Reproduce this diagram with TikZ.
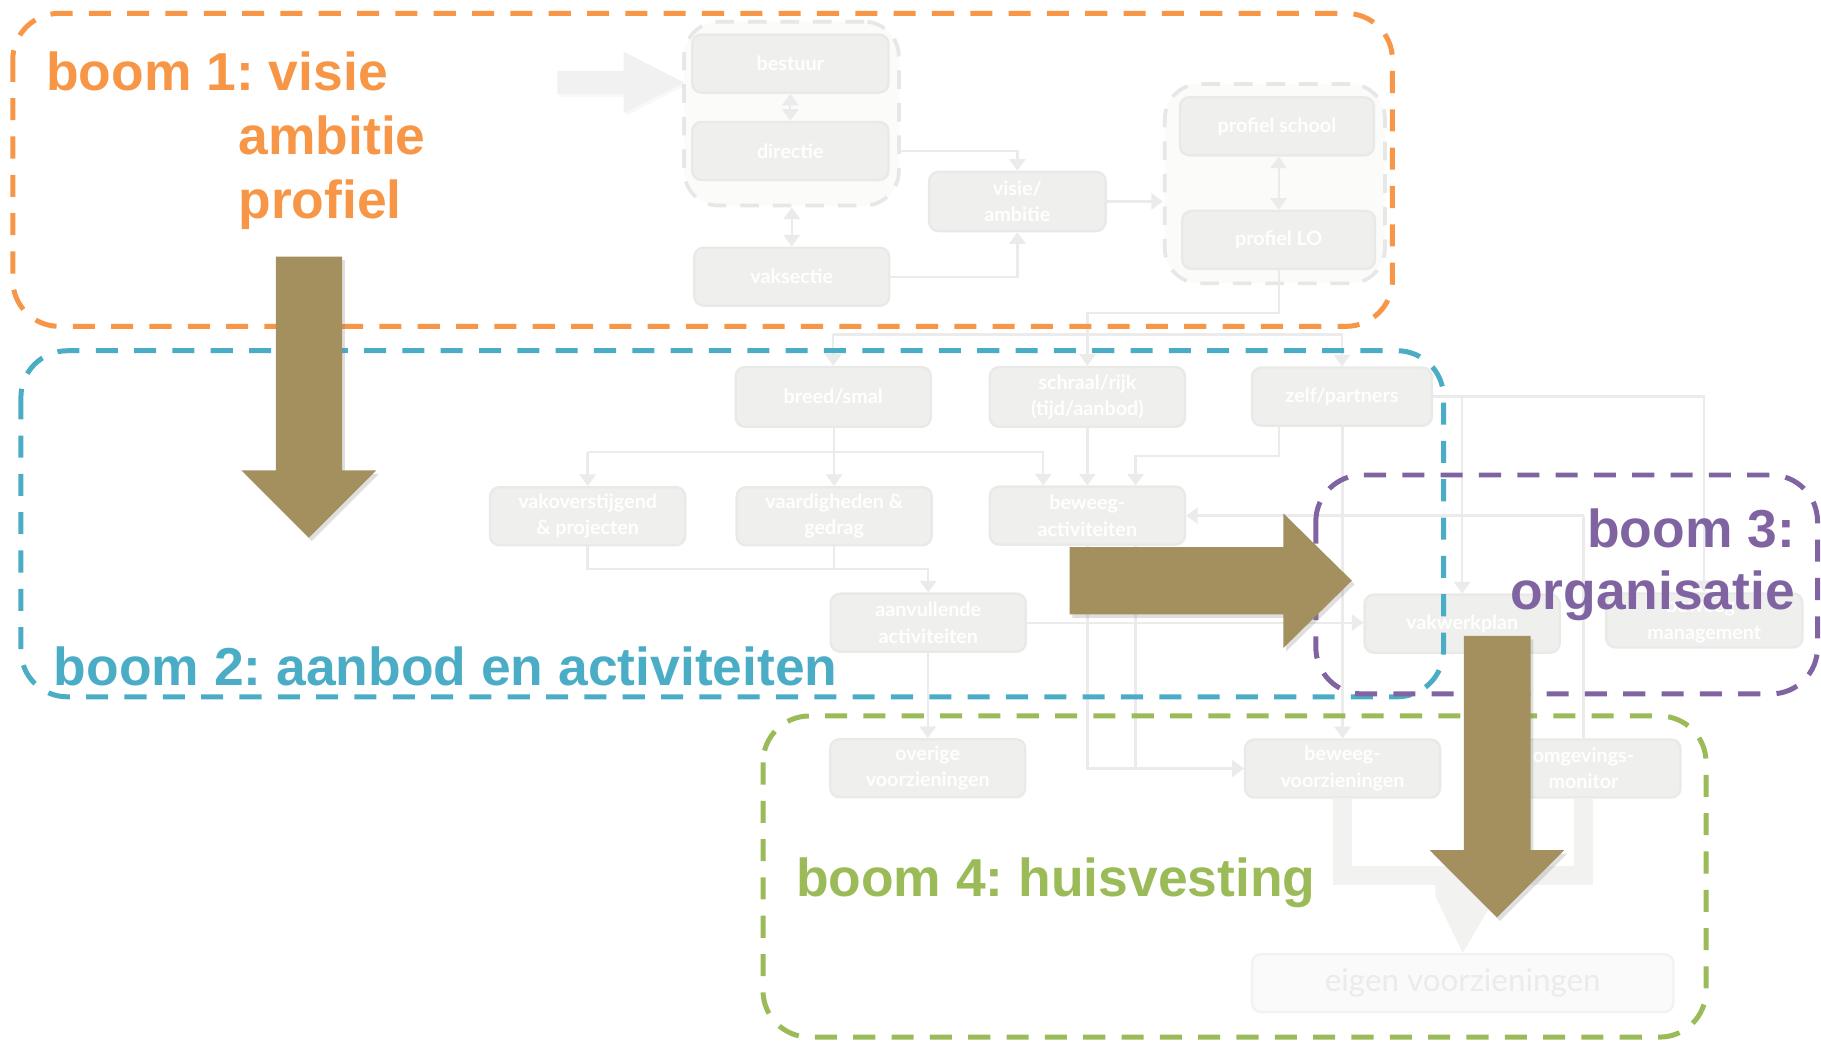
\documentclass[tikz,border=0pt]{standalone}
\usepackage{fontspec}
\setmainfont{Liberation Sans}
\newfontfamily\boxfont{Lato}
\usetikzlibrary{arrows.meta,calc,shadows}
\frenchspacing
\definecolor{orng}{HTML}{F79646}
\definecolor{blu}{HTML}{4BACC6}
\definecolor{purp}{HTML}{8064A2}
\definecolor{grn}{HTML}{9BBB59}
\definecolor{brwn}{HTML}{A48F5F}
\definecolor{boxfill}{HTML}{EFEFED}
\definecolor{boxedge}{HTML}{E9E9E7}
\definecolor{bandcol}{HTML}{F2F2F0}
\definecolor{conn}{HTML}{EBEBEB}
\definecolor{grpfill}{HTML}{FBFBFA}
\definecolor{grpedge}{HTML}{E7E7E6}
\definecolor{fadearrow}{HTML}{F1F1F1}
\begin{document}
\begin{tikzpicture}[x=0.5pt,y=-0.5pt,
  bx/.style={rounded corners=4pt, fill=boxfill, draw=boxedge, line width=1pt, text=white,
    font=\boxfont\bfseries\fontsize{8.5}{11.3}\selectfont, align=center, inner sep=0pt,
    minimum width=84pt, minimum height=25pt},
  lastbx/.style={rounded corners=4pt, fill=black!2, draw=black!5, line width=1pt, text=black!8,
    font=\boxfont\fontsize{13.5}{16}\selectfont, inner sep=0pt, minimum width=181.5pt, minimum height=25pt},
  con/.style={draw=conn, line width=1pt},
  arr/.style={con, -{Triangle[length=5pt,width=7pt]}},
  darr/.style={con, {Triangle[length=5pt,width=7pt]}-{Triangle[length=5pt,width=7pt]}},
  grp/.style={rounded corners=15pt, fill=grpfill, draw=grpedge, line width=1.6pt, dash pattern=on 8pt off 6pt, inner sep=0pt},
  frame/.style={rounded corners=20pt, line width=2.15pt, dash pattern=on 9.5pt off 7pt},
  lbl/.style={font=\frenchspacing\bfseries\fontsize{23}{27}\selectfont, inner sep=0pt},
  bigarrow/.style={fill=brwn, drop shadow={shadow xshift=1.2pt, shadow yshift=-1.5pt, opacity=0.25}},
  uband/.style={draw=bandcol, line width=8pt, line join=miter}
]
\useasboundingbox (0,0) rectangle (1568,900);

% ---------- faded background diagram ----------
\node[grp, minimum width=92.5pt, minimum height=79.15pt] (grp1) at (681.5,97.85) {};
\node[grp, minimum width=94.75pt, minimum height=85.85pt] (grp2) at (1097.75,158.15) {};

\fill[fadearrow, drop shadow={shadow xshift=0.8pt, shadow yshift=-1.2pt, opacity=0.06}]
  (480,61) -- (537,61) -- (537,44.5) -- (589,71) -- (537,97.5) -- (537,81) -- (480,81) -- cycle;

\node[bx, minimum width=84.5pt] (bestuur) at (680.5,54.8) {bestuur};
\node[bx, minimum width=84.5pt] (directie) at (680.5,130) {directie};
\node[bx] (vaksectie) at (681.75,238.25) {vaksectie};
\node[bx, minimum width=76pt, minimum height=25.5pt] (visie) at (876,173.5) {visie/\\ambitie};
\node[bx, minimum width=83.5pt] (pschool) at (1099.5,108.8) {profiel school};
\node[bx, minimum width=83pt] (pLO) at (1101,206.6) {profiel LO};

\node[bx, minimum height=25.75pt] (breed) at (717.5,341.75) {breed/smal};
\node[bx, minimum height=25.75pt] (schraal) at (936.3,341.75) {schraal/rijk\\(tijd/aanbod)};
\node[bx, minimum width=77.5pt] (zelf) at (1155.5,341.5) {zelf/partners};

\node[bx] (vakov) at (506,444.5) {vakoverstijgend\\\& projecten};
\node[bx] (vaard) at (718.3,444.5) {vaardigheden \&\\gedrag};
\node[bx] (bewact) at (936.3,444) {beweeg-\\activiteiten};

\node[bx] (aanv) at (799.3,536.15) {aanvullende\\activiteiten};
\node[bx] (vakwerk) at (1259,537) {vakwerkplan};
\node[bx, minimum width=84.5pt, minimum height=23.25pt] (bewman) at (1467.5,534.25) {beweeg-\\management};

\node[bx] (overige) at (798.85,661.5) {overige\\voorzieningen};
\node[bx] (bewvoorz) at (1156,661.75) {beweeg-\\voorzieningen};
\node[bx, minimum width=83.5pt] (omgev) at (1363.5,661.75) {omgevings-\\monitor};

\node[lastbx] (eigen) at (1259.5,846.5) {eigen voorzieningen};

% connectors top
\draw[darr] (bestuur) -- (directie);
\draw[darr] (vaksectie.north |- grp1.south) -- (vaksectie.north);
\draw[arr] (directie.east -| grp1.east) -| (visie.north);
\draw[arr] (vaksectie.east) -| (visie.south);
\draw[arr] (visie.east) -- (visie.east -| grp2.west);
\draw[darr] (pLO.north |- pschool.south) -- (pLO.north);
\draw[arr] (pLO.south) -- ++(0,37) -| (schraal.north);
\coordinate (busA) at (718,288);
\draw[arr] (breed.north |- busA) -| (zelf.north);
\draw[arr] (breed.north |- busA) -- (breed.north);

% row 3
\coordinate (busB) at (0,389);
\draw[arr] (vaard.north |- breed.south) -- (vaard.north);
\draw[arr] (vakov.north |- busB) -- (vakov.north);
\draw[arr] (vakov.north |- busB) -| ($(bewact.north)+(-38,0)$);
\draw[arr] (schraal.south) -- (bewact.north);
\draw[arr] ($(zelf.south)+(-54,0)$) -- ++(0,25) -| ($(bewact.north)+(41.5,0)$);
\draw[arr] (bewvoorz.north |- zelf.south) -- (bewvoorz.north);
\draw[arr] (zelf.east) -| (bewman.north);
\draw[arr] (zelf.east -| vakwerk.north) -- (vakwerk.north);
\draw[con] (omgev.north |- bewact.east) -- (omgev.north);
\draw[arr] (omgev.north |- bewact.east) -- (bewact.east);

% row 4
\coordinate (busC) at (0,490);
\draw[arr] (vakov.south) |- (aanv.north |- busC) -- (aanv.north);
\draw[con] (vaard.south) -- (vaard.south |- busC);
\draw[arr] (aanv.east) -- (aanv.east -| vakwerk.west);
\draw[arr] (overige.north |- aanv.south) -- (overige.north);
\draw[arr] (bewact.south) |- (bewvoorz.west);
\draw[arr] ($(bewact.south)+(41.5,0)$) |- (bewvoorz.west);

% thick band to eigen voorzieningen
\coordinate (ubot) at (0,754);
\draw[uband] (bewvoorz.south) -- (bewvoorz.south |- ubot) -| (omgev.south);
\fill[bandcol] (1236,760) -- (1236,772) -- (eigen.north) -- (1288,772) -- (1288,760) -- cycle;

% ---------- coloured frames ----------
\draw[frame, draw=orng] (11,11.5) rectangle (1199,281);
\draw[frame, draw=blu] (18,302) rectangle (1243,600);
\draw[frame, draw=purp] (1133,409) rectangle (1565,597.5);
\draw[frame, draw=grn] (657,616.5) rectangle (1469,893);

% ---------- labels ----------
\node[lbl, text=orng, anchor=base west] (t1a) at (39.5,77.5) {boom 1: visie};
\node[lbl, text=orng, anchor=base west] (t1b) at (205,133) {ambitie};
\node[lbl, text=orng, anchor=base west] (t1c) at (205,188) {profiel};
\node[lbl, text=blu, anchor=base west] (t2) at (46,590.5) {boom 2: aanbod en activiteiten};
\node[lbl, text=purp, anchor=base east] (t3a) at (1546,471) {boom 3:};
\node[lbl, text=purp, anchor=base east] (t3b) at (1546,525) {organisatie};
\node[lbl, text=grn, anchor=base west] (t4) at (685,772) {boom 4: huisvesting};

% ---------- big arrows ----------
\fill[bigarrow] (237.5,221) -- (294.5,221) -- (294.5,405) -- (324,405) -- (266,463) -- (208,405) -- (237.5,405) -- cycle;
\fill[bigarrow] (921,471) -- (1105,471) -- (1105,442) -- (1164,500) -- (1105,558) -- (1105,529) -- (921,529) -- cycle;
\fill[bigarrow] (1260.5,547.5) -- (1318,547.5) -- (1318,732) -- (1347,732) -- (1289,790) -- (1231,732) -- (1260.5,732) -- cycle;
\end{tikzpicture}
\end{document}
